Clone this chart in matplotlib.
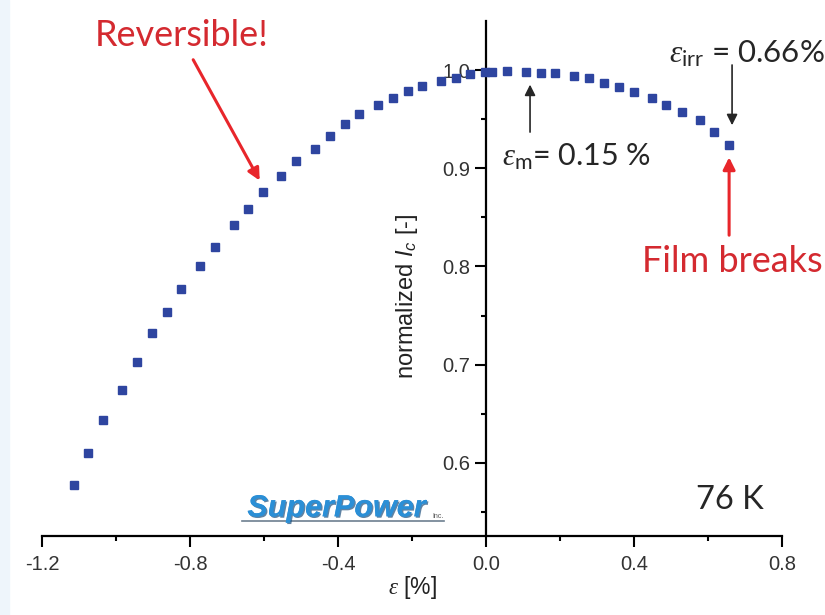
import matplotlib
matplotlib.use("Agg")
from matplotlib import pyplot as plt
from matplotlib import patheffects
from matplotlib.patches import Rectangle

# strain [%] and normalized Ic
strain = [-1.114, -1.076, -1.035, -0.984, -0.943, -0.903, -0.862, -0.824, -0.773, -0.732,
          -0.681, -0.643, -0.603, -0.554, -0.514, -0.462, -0.422, -0.381, -0.343, -0.292,
          -0.251, -0.211, -0.173, -0.122, -0.081, -0.043, -0.003, 0.016, 0.057, 0.108,
          0.149, 0.186, 0.238, 0.278, 0.319, 0.359, 0.400, 0.449, 0.486, 0.530,
          0.578, 0.616, 0.657]
ic_norm = [0.577, 0.610, 0.644, 0.674, 0.703, 0.732, 0.754, 0.777, 0.800, 0.820,
           0.842, 0.859, 0.876, 0.892, 0.907, 0.920, 0.933, 0.945, 0.955, 0.964,
           0.972, 0.979, 0.984, 0.989, 0.992, 0.996, 0.998, 0.998, 0.999, 0.998,
           0.997, 0.997, 0.994, 0.992, 0.987, 0.983, 0.978, 0.972, 0.964, 0.957,
           0.949, 0.937, 0.924]

x_ticks = [-1.2, -0.8, -0.4, 0.0, 0.4, 0.8]
x_minor = [-1.0, -0.6, -0.2, 0.2, 0.6]
y_ticks = [0.6, 0.7, 0.8, 0.9, 1.0]
y_minor = [0.55, 0.65, 0.75, 0.85, 0.95]

plt.rcParams['axes.unicode_minus'] = False
plt.rcParams['mathtext.fontset'] = 'custom'
plt.rcParams['mathtext.it'] = 'Liberation Serif:italic'
plt.rcParams['mathtext.rm'] = 'Lato'
plt.rcParams['mathtext.sf'] = 'Liberation Sans:italic'

RED_TXT = '#d42a30'
RED_ARR = '#e8262b'
DARK = '#262626'

fig = plt.figure(figsize=(8.25, 6.15), dpi=100)
fig.patches.append(Rectangle((0, 0), 0.011, 1, transform=fig.transFigure,
                             color='#eef5fb', zorder=0))
ax = fig.add_axes([0.0509, 0.1285, 0.897, 0.8374])

ax.plot(strain, ic_norm, 's', color='#2e45a0', markersize=5.2, clip_on=False, zorder=3)

ax.set_xlim(-1.2, 0.8)
ax.set_ylim(0.5255, 1.05)
ax.spines['left'].set_position(('data', 0))
ax.spines['right'].set_visible(False)
ax.spines['top'].set_visible(False)
for s in ['left', 'bottom']:
    ax.spines[s].set_linewidth(1.6)

ax.set_xticks(x_ticks)
ax.set_xticklabels(['%.1f' % v for v in x_ticks])
ax.set_xticks(x_minor, minor=True)
ax.set_yticks(y_ticks)
ax.set_yticklabels(['%.1f' % v for v in y_ticks])
ax.set_yticks(y_minor, minor=True)
ax.tick_params(which='major', length=8, width=1.5, labelsize=14.5, labelcolor='#333333')
ax.tick_params(which='minor', length=3.8, width=1.5)
ax.tick_params(axis='x', which='major', pad=6)
for lab in ax.get_xticklabels() + ax.get_yticklabels():
    lab.set_family('Liberation Sans')

ax.set_xlabel(r'$\varepsilon$ [%]', family='Liberation Sans', fontsize=16.5, labelpad=0,
              color='#222222')
ax.set_ylabel(r'normalized $\mathsf{I}_{\mathsf{c}}$ [-]', family='Liberation Sans',
              fontsize=17, color='#222222')
ax.yaxis.set_label_coords(0.511, 0.466)

# annotations
ax.text(-0.822, 1.0245, 'Reversible!', color=RED_TXT, family='Lato', fontsize=26,
        ha='center', va='baseline')
ax.annotate('', xy=(-0.608, 0.885), xytext=(-0.795, 1.013),
            arrowprops=dict(arrowstyle='-|>', color=RED_ARR, lw=2.2, mutation_scale=18))

ax.text(0.495, 1.008, r'$\varepsilon_{\mathrm{irr}}$ = 0.66%', color=DARK, family='Lato',
        fontsize=22.5, ha='left', va='baseline')
ax.annotate('', xy=(0.665, 0.941), xytext=(0.665, 1.008),
            arrowprops=dict(arrowstyle='-|>', color=DARK, lw=1.2, mutation_scale=16))

ax.text(0.043, 0.903, r'$\varepsilon_{\mathrm{m}}$= 0.15 %', color=DARK, family='Lato',
        fontsize=22, ha='left', va='baseline')
ax.annotate('', xy=(0.119, 0.988), xytext=(0.119, 0.934),
            arrowprops=dict(arrowstyle='-|>', color=DARK, lw=1.2, mutation_scale=16))

ax.text(0.422, 0.794, 'Film breaks', color=RED_TXT, family='Lato', fontsize=26,
        ha='left', va='baseline')
ax.annotate('', xy=(0.657, 0.914), xytext=(0.657, 0.829),
            arrowprops=dict(arrowstyle='-|>', color=RED_ARR, lw=2.2, mutation_scale=18))

ax.text(0.568, 0.553, '76 K', color=DARK, family='Lato', fontsize=23.5,
        ha='left', va='baseline')

# SuperPower logo
logo = ax.text(-0.645, 0.5455, 'SuperPower', color='#2b8fd6', family='Liberation Sans',
               fontsize=22, fontweight='bold', fontstyle='italic', ha='left', va='baseline')
logo.set_path_effects([patheffects.withSimplePatchShadow(offset=(1, -1),
                                                         shadow_rgbFace='#1b4f7e', alpha=0.7),
                       patheffects.Normal()])
ax.plot([-0.659, -0.114], [0.5405, 0.5405], color='#6d7f90', lw=1.2)
ax.text(-0.146, 0.5435, 'Inc.', color='#555555', family='Liberation Sans',
        fontsize=5, ha='left', va='baseline')

plt.savefig('out.png', dpi=100)
